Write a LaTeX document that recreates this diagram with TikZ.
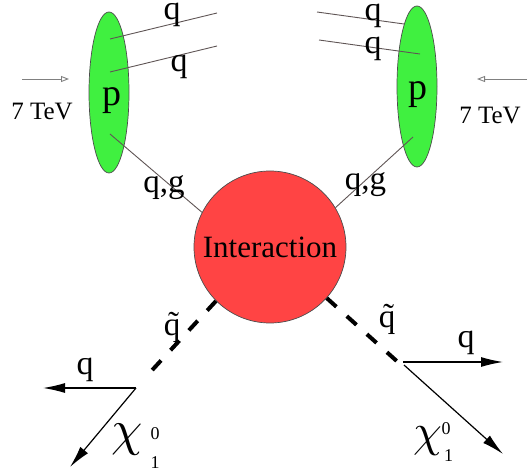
\documentclass[tikz,border=0pt]{standalone}
\usepackage{graphicx}
\usepackage{fontspec}
\setmainfont{Liberation Serif}
\usetikzlibrary{arrows.meta,shapes.geometric}
\definecolor{pgreen}{RGB}{64,240,64}
\definecolor{pred}{RGB}{255,68,68}
\definecolor{thinc}{RGB}{95,85,85}
\begin{document}
\begin{tikzpicture}[x=1pt,y=-1pt,
  proton/.style={ellipse, draw=black!70, fill=pgreen, minimum width=40pt, minimum height=161pt, inner sep=0pt, line width=0.7pt},
  blob/.style={circle, draw=black!70, fill=pred, minimum size=152pt, inner sep=0pt, line width=0.7pt, font=\fontsize{31}{31}\selectfont},
  thinline/.style={draw=thinc, line width=0.9pt},
  beam/.style={draw=black!50, line width=0.9pt, -{Triangle[open,length=8pt,width=6pt]}},
  sparticle/.style={line width=4pt, dash pattern=on 13pt off 14pt},
  decay/.style={line width=1.2pt, -{Latex[length=22pt,width=10pt]}},
  lbl/.style={anchor=base, inner sep=0pt, font=\fontsize{34}{34}\selectfont},
  small/.style={anchor=base, inner sep=0pt, font=\fontsize{25}{25}\selectfont},
  tiny/.style={anchor=base, inner sep=0pt, font=\fontsize{18}{18}\selectfont},
  chilbl/.style={anchor=base, inner sep=0pt, font=\fontsize{10}{10}\selectfont}
]
\useasboundingbox (0,0) rectangle (528,470);

% protons
\node[proton] (pL) at (109,92.5) {};
\node[proton] (pR) at (417,86.5) {};
\node[lbl, font=\fontsize{38}{38}\selectfont] (pLt) at (112,105.5) {p};
\node[lbl, font=\fontsize{38}{38}\selectfont] (pRt) at (418,100) {p};

% beam arrows
\coordinate (bL0) at (22,79);  \coordinate (bL1) at (69,79);
\coordinate (bR0) at (527,79); \coordinate (bR1) at (477,79);
\draw[beam] (bL0) -- (bL1);
\draw[beam] (bR0) -- (bR1);
\node[small] (eL) at (42,120) {7 TeV};
\node[small] (eR) at (490,124) {7 TeV};

% interaction
\node[blob] (I) at (270,247) {Interaction};

% spectator quarks
\coordinate (qL1a) at (110,39);  \coordinate (qL1b) at (217,13);
\coordinate (qL2a) at (110,72);  \coordinate (qL2b) at (217,46);
\coordinate (qR1a) at (404,24);  \coordinate (qR1b) at (317,12);
\coordinate (qR2a) at (420,54);  \coordinate (qR2b) at (319,40);
\coordinate (gLa) at (110,134);
\coordinate (gRa) at (413,137);
\draw[thinline] (qL1a) -- (qL1b);
\draw[thinline] (qL2a) -- (qL2b);
\draw[thinline] (qR1a) -- (qR1b);
\draw[thinline] (qR2a) -- (qR2b);
\draw[thinline] (gLa) -- (I.153);
\draw[thinline] (gRa) -- (I.31);

\node[lbl] (tq1) at (172,20) {q};
\node[lbl] (tq2) at (179,72) {q};
\node[lbl] (tq3) at (373,20.5) {q};
\node[lbl] (tq4) at (373,54) {q};
\node[lbl, font=\fontsize{33}{33}\selectfont] (qgL) at (164,192.5) {q,g};
\node[lbl, font=\fontsize{33}{33}\selectfont] (qgR) at (365.5,189.5) {q,g};

% squarks
\coordinate (dL) at (143,380);
\coordinate (dR) at (400,364);
\draw[sparticle] (I.225) -- (dL);
\draw[sparticle] (I.-42) -- (dR);
\node[lbl, font=\fontsize{33}{33}\selectfont] (sqL) at (172,335.5) {\~q};
\node[lbl, font=\fontsize{33}{33}\selectfont] (sqR) at (387,327.5) {\~q};

% decays
\coordinate (vL) at (136,388);
\coordinate (qLe) at (43,388);
\coordinate (xLe) at (70,467);
\coordinate (vR) at (403,362);
\coordinate (vR2) at (404,365);
\coordinate (qRe) at (503,362);
\coordinate (xRe) at (503,454);
\draw[decay] (vL) -- (qLe);
\draw[decay] (vL) -- (xLe);
\draw[decay] (vR) -- (qRe);
\draw[decay] (vR2) -- (xRe);

\node[lbl] (qdL) at (85,374.5) {q};
\node[lbl] (qdR) at (466,347.5) {q};
\node[chilbl] (chiL) at (127.5,446) {\scalebox{5}{$\chi$}};
\node[chilbl] (chiR) at (427.5,447) {\scalebox{4.6}{$\chi$}};
\node[tiny] (zL) at (155,440) {0};
\node[tiny] (oL) at (155,468) {1};
\node[tiny] (zR) at (446,435) {0};
\node[tiny] (oR) at (448.5,462) {1};
\end{tikzpicture}
\end{document}
